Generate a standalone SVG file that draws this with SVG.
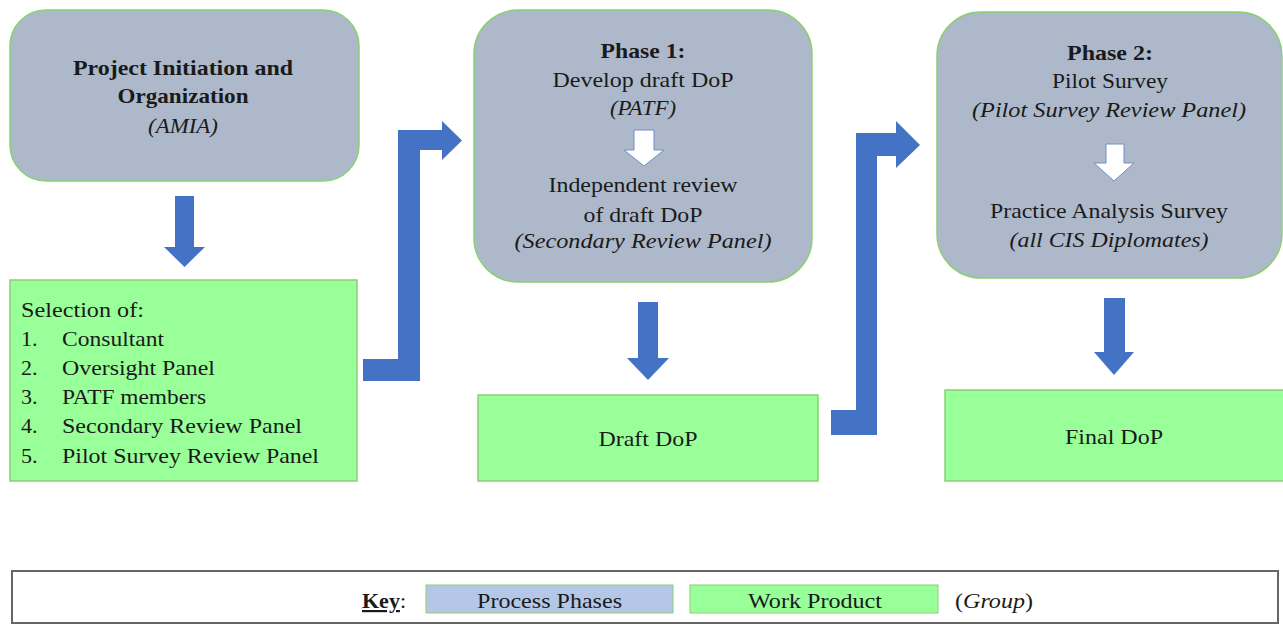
<svg xmlns="http://www.w3.org/2000/svg" width="1283" height="627" viewBox="0 0 1283 627">
<style>
text{font-family:"Liberation Serif","Times New Roman",serif;font-size:22px;fill:#1a1a1a}
.c{text-anchor:middle}
.b{font-weight:bold}
.i{font-style:italic}
.phase{fill:#adb9ca;stroke:#8ccf73;stroke-width:1.5}
.prod{fill:#99ff99;stroke:#8ccf73;stroke-width:1.5}
.blue{fill:#4472c4}
.white{fill:#ffffff;stroke:#6f8fc9;stroke-width:1}
</style>
<rect width="1283" height="627" fill="#ffffff"/>
<g id="connectors">
  <path class="blue" d="M175,196 H194 V247 H205 L184.5,267 L164,247 H175 Z"/>
  <path class="blue" d="M363,359 H398 V130 H442 V121 L462,140.5 L442,160 V150 H420 V381 H363 Z"/>
  <path class="blue" d="M638,302 H658 V358 H669 L648,380 L627,358 H638 Z"/>
  <path class="blue" d="M831,410 H856 V133 H896 V121 L920,145 L896,168 V156 H877 V435 H831 Z"/>
  <path class="blue" d="M1104,298 H1125 V352 H1134 L1114,375 L1094,352 H1104 Z"/>
</g>
<g id="node-initiation">
  <rect class="phase" x="10" y="10" width="349" height="171" rx="36"/>
  <text class="c b" x="183" y="75" textLength="220" lengthAdjust="spacingAndGlyphs">Project Initiation  and</text>
  <text class="c b" x="183" y="103" textLength="131" lengthAdjust="spacingAndGlyphs">Organization</text>
  <text class="c i" x="183" y="133" textLength="70" lengthAdjust="spacingAndGlyphs">(AMIA)</text>
</g>
<g id="node-selection">
  <rect class="prod" x="10" y="280" width="347" height="201"/>
  <text x="21" y="317" textLength="123" lengthAdjust="spacingAndGlyphs">Selection of:</text>
  <text x="21" y="346">1.</text><text x="62" y="346" textLength="102" lengthAdjust="spacingAndGlyphs">Consultant</text>
  <text x="21" y="375">2.</text><text x="62" y="375" textLength="153" lengthAdjust="spacingAndGlyphs">Oversight  Panel</text>
  <text x="21" y="404">3.</text><text x="62" y="404" textLength="144" lengthAdjust="spacingAndGlyphs">PATF members</text>
  <text x="21" y="433">4.</text><text x="62" y="433" textLength="240" lengthAdjust="spacingAndGlyphs">Secondary  Review Panel</text>
  <text x="21" y="463">5.</text><text x="62" y="463" textLength="257" lengthAdjust="spacingAndGlyphs">Pilot Survey  Review Panel</text>
</g>
<g id="node-phase1">
  <rect class="phase" x="474" y="10" width="338" height="272" rx="44"/>
  <text class="c b" x="643" y="58" textLength="85" lengthAdjust="spacingAndGlyphs">Phase 1:</text>
  <text class="c" x="643" y="87" textLength="181" lengthAdjust="spacingAndGlyphs">Develop  draft DoP</text>
  <text class="c i" x="643" y="115" textLength="66" lengthAdjust="spacingAndGlyphs">(PATF)</text>
  <path class="white" d="M634,130 H654 V150 H664 L644,166 L624,150 H634 Z"/>
  <text class="c" x="643" y="192" textLength="189" lengthAdjust="spacingAndGlyphs">Independent  review</text>
  <text class="c" x="643" y="222" textLength="119" lengthAdjust="spacingAndGlyphs">of draft DoP</text>
  <text class="c i" x="643" y="248" textLength="257" lengthAdjust="spacingAndGlyphs">(Secondary  Review  Panel)</text>
</g>
<g id="node-draft">
  <rect class="prod" x="478" y="395" width="340" height="86"/>
  <text class="c" x="648" y="446" textLength="99" lengthAdjust="spacingAndGlyphs">Draft DoP</text>
</g>
<g id="node-phase2">
  <rect class="phase" x="937" y="12" width="345" height="266" rx="44"/>
  <text class="c b" x="1110" y="60" textLength="86" lengthAdjust="spacingAndGlyphs">Phase 2:</text>
  <text class="c" x="1110" y="88" textLength="116" lengthAdjust="spacingAndGlyphs">Pilot Survey</text>
  <text class="c i" x="1109" y="117" textLength="274" lengthAdjust="spacingAndGlyphs">(Pilot Survey  Review  Panel)</text>
  <path class="white" d="M1106,144 H1124 V163 H1134 L1114,181 L1094,163 H1106 Z"/>
  <text class="c" x="1109" y="218" textLength="238" lengthAdjust="spacingAndGlyphs">Practice Analysis  Survey</text>
  <text class="c i" x="1109" y="247" textLength="199" lengthAdjust="spacingAndGlyphs">(all CIS Diplomates)</text>
</g>
<g id="node-final">
  <rect class="prod" x="945" y="390" width="340" height="91"/>
  <text class="c" x="1114" y="444" textLength="98" lengthAdjust="spacingAndGlyphs">Final DoP</text>
</g>
<g id="key">
  <rect x="12" y="571" width="1266" height="52" fill="#ffffff" stroke="#666666" stroke-width="2"/>
  <text x="362" y="608"><tspan class="b" text-decoration="underline">Key</tspan>:</text>
  <rect x="426" y="585" width="247" height="28" fill="#b4c7e7" stroke="#8ccf73" stroke-width="1"/>
  <text class="c" x="549.5" y="608" textLength="145" lengthAdjust="spacingAndGlyphs">Process Phases</text>
  <rect x="690" y="585" width="248" height="28" fill="#99ff99" stroke="#8ccf73" stroke-width="1"/>
  <text class="c" x="815" y="608" textLength="134" lengthAdjust="spacingAndGlyphs">Work Product</text>
  <text x="955" y="608" textLength="78" lengthAdjust="spacingAndGlyphs">(<tspan class="i">Group</tspan>)</text>
</g>
</svg>
